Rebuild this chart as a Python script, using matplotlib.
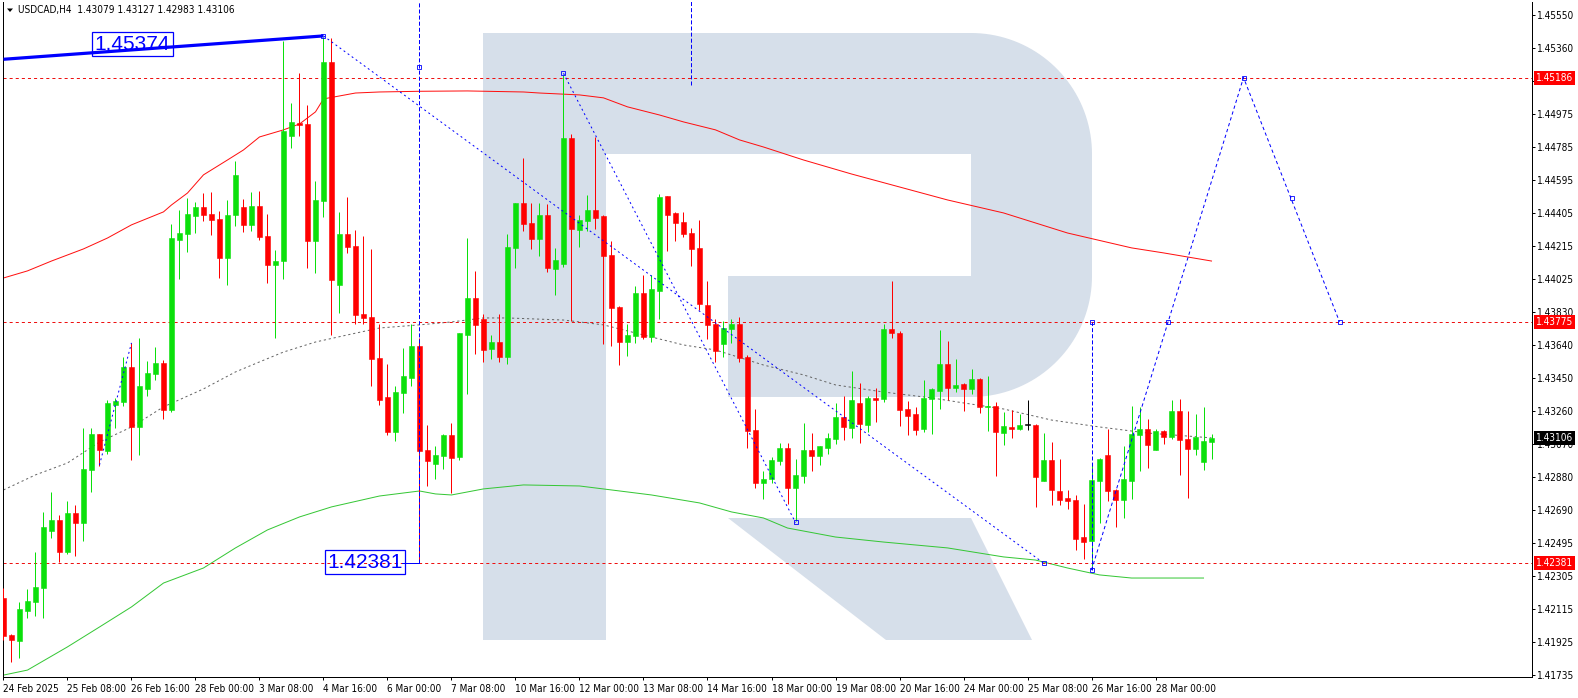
import matplotlib.pyplot as plt
import matplotlib.transforms as mtransforms
from matplotlib.patches import Polygon, Rectangle
import numpy as np

plt.rcParams['font.family'] = ['DejaVu Sans']
plt.rcParams['font.stretch'] = 'condensed'
plt.rcParams['lines.scale_dashes'] = False

# ---- data: USDCAD H4 candles ----
opens = [1.42179, 1.41965, 1.41930, 1.42103, 1.42155, 1.42237, 1.42566, 1.42629, 1.42444, 1.42670,
         1.42612, 1.42918, 1.43127, 1.43028, 1.43294, 1.43311, 1.43514, 1.43167, 1.43387, 1.43473,
         1.43537, 1.43265, 1.44248, 1.44283, 1.44387, 1.44439, 1.44398, 1.44369, 1.44144, 1.44392,
         1.44439, 1.44335, 1.44444, 1.44271, 1.44103, 1.44126, 1.44849, 1.44924, 1.44918, 1.44242,
         1.44473, 1.45277, 1.43988, 1.44283, 1.44213, 1.43820, 1.43803, 1.43566, 1.43340, 1.43138,
         1.43364, 1.43450, 1.43635, 1.43034, 1.42953, 1.42999, 1.43121, 1.42994, 1.43699, 1.43913,
         1.43791, 1.43618, 1.43658, 1.43571, 1.44202, 1.44462, 1.44346, 1.44254, 1.44392, 1.44080,
         1.44109, 1.44837, 1.44306, 1.44358, 1.44421, 1.44387, 1.44161, 1.43860, 1.43658, 1.43693,
         1.43942, 1.43687, 1.43953, 1.44502, 1.44404, 1.44352, 1.44288, 1.44202, 1.43872, 1.43762,
         1.43647, 1.43733, 1.43762, 1.43571, 1.43150, 1.42843, 1.42866, 1.42970, 1.43046, 1.42815,
         1.42884, 1.43034, 1.42999, 1.43046, 1.43098, 1.43225, 1.43161, 1.43306, 1.43179, 1.43335,
         1.43329, 1.43733, 1.43710, 1.43271, 1.43242, 1.43156, 1.43329, 1.43375, 1.43531, 1.43392,
         1.43415, 1.43387, 1.43444, 1.43283, 1.43288, 1.43132, 1.43167, 1.43156, 1.43179, 1.43179,
         1.42855, 1.42976, 1.42797, 1.42757, 1.42745, 1.42531, 1.42508, 1.42855, 1.43005, 1.42803,
         1.42745, 1.42855, 1.43121, 1.43156, 1.43034, 1.43144, 1.43109, 1.43259, 1.43098, 1.43040,
         1.42965, 1.43079]
highs = [1.42237, 1.41971, 1.42155, 1.42231, 1.42444, 1.42675, 1.42791, 1.42658, 1.42739, 1.42716,
         1.43161, 1.43161, 1.43127, 1.43323, 1.43335, 1.43571, 1.43653, 1.43681, 1.43548, 1.43629,
         1.43554, 1.44340, 1.44421, 1.44491, 1.44467, 1.44519, 1.44525, 1.44415, 1.44479, 1.44704,
         1.44485, 1.44525, 1.44531, 1.44398, 1.44190, 1.45398, 1.45040, 1.45213, 1.45028, 1.44589,
         1.45421, 1.45415, 1.44410, 1.44496, 1.44306, 1.44271, 1.44196, 1.43762, 1.43531, 1.43404,
         1.43624, 1.43762, 1.43681, 1.43179, 1.43057, 1.43127, 1.43190, 1.43710, 1.44259, 1.44069,
         1.43820, 1.43699, 1.43820, 1.44283, 1.44462, 1.44722, 1.44462, 1.44462, 1.44456, 1.44202,
         1.45202, 1.44860, 1.44392, 1.44508, 1.44843, 1.44392, 1.44242, 1.43866, 1.43762, 1.43982,
         1.44046, 1.44046, 1.44514, 1.44502, 1.44410, 1.44410, 1.44317, 1.44363, 1.44011, 1.43791,
         1.43780, 1.43791, 1.43803, 1.43583, 1.43271, 1.42913, 1.42994, 1.43075, 1.43075, 1.42982,
         1.43190, 1.43132, 1.43057, 1.43132, 1.43306, 1.43346, 1.43491, 1.43421, 1.43346, 1.43392,
         1.43762, 1.44011, 1.43722, 1.43317, 1.43283, 1.43439, 1.43392, 1.43728, 1.43664, 1.43560,
         1.43421, 1.43502, 1.43450, 1.43462, 1.43311, 1.43254, 1.43265, 1.43242, 1.43323, 1.43184,
         1.43132, 1.43080, 1.42982, 1.42803, 1.42774, 1.42722, 1.42947, 1.42988, 1.43156, 1.42809,
         1.43057, 1.43288, 1.43283, 1.43213, 1.43156, 1.43150, 1.43323, 1.43329, 1.43259, 1.43242,
         1.43283, 1.43127]
lows = [1.41936, 1.41808, 1.41832, 1.42063, 1.42074, 1.42063, 1.42525, 1.42386, 1.42433, 1.42421,
        1.42508, 1.42791, 1.42941, 1.43011, 1.43161, 1.43288, 1.42976, 1.43005, 1.43346, 1.43439,
        1.43213, 1.43254, 1.44022, 1.44178, 1.44288, 1.44358, 1.44277, 1.44028, 1.43988, 1.44329,
        1.44294, 1.44300, 1.44248, 1.43999, 1.43681, 1.44022, 1.44780, 1.44849, 1.44086, 1.44057,
        1.44381, 1.43699, 1.43826, 1.44173, 1.43762, 1.43762, 1.43404, 1.43294, 1.43121, 1.43086,
        1.43248, 1.43404, 1.42381, 1.42826, 1.42866, 1.42924, 1.42785, 1.42976, 1.43358, 1.43589,
        1.43543, 1.43560, 1.43543, 1.43531, 1.44086, 1.44300, 1.44196, 1.44155, 1.44063, 1.43930,
        1.44092, 1.43780, 1.44207, 1.44300, 1.44311, 1.43647, 1.43635, 1.43525, 1.43577, 1.43653,
        1.43676, 1.43658, 1.43791, 1.44184, 1.44242, 1.44265, 1.44097, 1.43843, 1.43676, 1.43543,
        1.43571, 1.43653, 1.43543, 1.43046, 1.42815, 1.42751, 1.42843, 1.42947, 1.42722, 1.42624,
        1.42843, 1.42913, 1.42947, 1.43011, 1.43069, 1.43092, 1.43104, 1.43075, 1.43138, 1.43196,
        1.43311, 1.43681, 1.43173, 1.43121, 1.43121, 1.43138, 1.43127, 1.43271, 1.43323, 1.43369,
        1.43259, 1.43358, 1.43248, 1.43144, 1.42884, 1.43063, 1.43104, 1.43150, 1.43150, 1.42705,
        1.42855, 1.42716, 1.42716, 1.42693, 1.42456, 1.42404, 1.42364, 1.42612, 1.42739, 1.42589,
        1.42641, 1.42751, 1.42913, 1.42930, 1.43034, 1.43069, 1.43098, 1.42890, 1.42757, 1.43005,
        1.42918, 1.42983]
closes = [1.41959, 1.41936, 1.42115, 1.42161, 1.42243, 1.42589, 1.42629, 1.42444, 1.42670, 1.42612,
          1.42924, 1.43127, 1.43034, 1.43306, 1.43317, 1.43514, 1.43167, 1.43404, 1.43479, 1.43537,
          1.43265, 1.44259, 1.44288, 1.44398, 1.44439, 1.44392, 1.44363, 1.44144, 1.44392, 1.44624,
          1.44335, 1.44444, 1.44265, 1.44103, 1.44126, 1.44878, 1.44930, 1.44913, 1.44242, 1.44479,
          1.45277, 1.44017, 1.44283, 1.44207, 1.43814, 1.43797, 1.43560, 1.43323, 1.43138, 1.43369,
          1.43462, 1.43635, 1.43028, 1.42970, 1.43005, 1.43121, 1.42988, 1.43710, 1.43913, 1.43757,
          1.43612, 1.43658, 1.43571, 1.44207, 1.44462, 1.44340, 1.44254, 1.44392, 1.44086, 1.44132,
          1.44837, 1.44311, 1.44363, 1.44421, 1.44375, 1.44155, 1.43855, 1.43658, 1.43699, 1.43942,
          1.43687, 1.43965, 1.44496, 1.44392, 1.44346, 1.44283, 1.44196, 1.43878, 1.43757, 1.43606,
          1.43739, 1.43762, 1.43566, 1.43144, 1.42843, 1.42866, 1.42976, 1.43046, 1.42815, 1.42890,
          1.43034, 1.42999, 1.43057, 1.43104, 1.43225, 1.43167, 1.43323, 1.43184, 1.43335, 1.43323,
          1.43733, 1.43710, 1.43265, 1.43231, 1.43150, 1.43335, 1.43387, 1.43531, 1.43392, 1.43410,
          1.43387, 1.43444, 1.43283, 1.43288, 1.43138, 1.43173, 1.43156, 1.43179, 1.43179, 1.42878,
          1.42976, 1.42803, 1.42745, 1.42739, 1.42520, 1.42502, 1.42861, 1.42982, 1.42797, 1.42745,
          1.42866, 1.43127, 1.43156, 1.43063, 1.43144, 1.43109, 1.43259, 1.43092, 1.43040, 1.43109,
          1.43086, 1.43106]

# moving averages (sampled along the drawn curves)
slow_ma_bars = [0, 3, 6, 10, 13, 16, 20, 21, 23, 25, 28, 30, 32, 35, 37, 39, 40, 42, 44, 47, 52, 58,
                65, 67, 72, 75, 78, 82, 85, 89, 92, 95, 100, 106, 112, 118, 125, 133, 141, 145, 151]
slow_ma_vals = [1.44028, 1.44069, 1.44126, 1.44196, 1.44259, 1.44335, 1.44410, 1.44450, 1.44519,
                1.44624, 1.44710, 1.44768, 1.44843, 1.44884, 1.44918, 1.44988, 1.45063, 1.45080,
                1.45097, 1.45103, 1.45107, 1.45109, 1.45103, 1.45097, 1.45086, 1.45069, 1.45017,
                1.44970, 1.44930, 1.44884, 1.44826, 1.44785, 1.44710, 1.44629, 1.44554, 1.44479,
                1.44404, 1.44288, 1.44202, 1.44173, 1.44126]
mid_ma_bars = [0, 4, 8, 12, 16, 20, 25, 29, 32, 35, 39, 43, 47, 52, 56, 60, 63, 70, 75, 81, 85, 89,
               95, 100, 104, 110, 116, 120, 125, 131, 137, 143, 151]
mid_ma_vals = [1.42803, 1.42890, 1.42959, 1.43080, 1.43167, 1.43283, 1.43387, 1.43485, 1.43543,
               1.43600, 1.43658, 1.43699, 1.43739, 1.43757, 1.43774, 1.43797, 1.43797, 1.43785,
               1.43757, 1.43687, 1.43641, 1.43612, 1.43525, 1.43468, 1.43410, 1.43369, 1.43335,
               1.43306, 1.43271, 1.43207, 1.43167, 1.43132, 1.43104]
low_ma_bars = [0, 3, 8, 12, 16, 20, 25, 29, 33, 37, 41, 47, 52, 54, 56, 60, 65, 72, 76, 81, 87, 91,
               95, 98, 104, 110, 118, 125, 129, 133, 137, 141, 150]
low_ma_vals = [1.41733, 1.41762, 1.41896, 1.42011, 1.42127, 1.42265, 1.42352, 1.42468, 1.42572,
               1.42647, 1.42705, 1.42768, 1.42797, 1.42780, 1.42774, 1.42809, 1.42832, 1.42826,
               1.42803, 1.42774, 1.42728, 1.42676, 1.42641, 1.42583, 1.42531, 1.42502, 1.42468,
               1.42416, 1.42398, 1.42352, 1.42312, 1.42294, 1.42294]

levels = [1.45186, 1.43775, 1.42381]
last_price = 1.43106

trend_bars = [0, 40]
trend_vals = [1.45292, 1.45427]
wave_small = ([12, 16], [1.42947, 1.43653])
wave_long = ([40, 130], [1.45427, 1.42381])
wave_mid = ([70, 99], [1.45211, 1.42615])
forecast_bars = [136, 155, 167]
forecast_vals = [1.42340, 1.45186, 1.43775]
marker_bars = [40, 70, 99, 130, 136, 136, 145.6, 155, 161, 167, 52]
marker_vals = [1.45427, 1.45211, 1.42615, 1.42381, 1.42340, 1.43775, 1.43775, 1.45186, 1.44491,
               1.43775, 1.45250]

ytick_vals = [1.45550, 1.45360, 1.45165, 1.44975, 1.44785, 1.44595, 1.44405, 1.44215, 1.44025,
              1.43830, 1.43640, 1.43450, 1.43260, 1.43070, 1.42880, 1.42690, 1.42495, 1.42305,
              1.42115, 1.41925, 1.41735]
date_labels = ['24 Feb 2025', '25 Feb 08:00', '26 Feb 16:00', '28 Feb 00:00', '3 Mar 08:00',
               '4 Mar 16:00', '6 Mar 00:00', '7 Mar 08:00', '10 Mar 16:00', '12 Mar 00:00',
               '13 Mar 08:00', '14 Mar 16:00', '18 Mar 00:00', '19 Mar 08:00', '20 Mar 16:00',
               '24 Mar 00:00', '25 Mar 08:00', '26 Mar 16:00', '28 Mar 00:00']

UP = '#0be00b'
DOWN = '#ff0000'
BLUE = '#0000ff'
WM = '#d6dfea'
PX = 0.72  # one pixel in points at dpi 100
FS = 7.2

fig = plt.figure(figsize=(15.78, 6.98), dpi=100)

# watermark layer (pixel coordinates)
wm = fig.add_axes([0, 0, 1, 1], zorder=0)
wm.set_xlim(0, 1578)
wm.set_ylim(698, 0)
wm.axis('off')
wm.add_patch(Rectangle((483, 33), 123, 607, color=WM, lw=0))
t1 = np.linspace(-90, 0, 40) * np.pi / 180
t2 = np.linspace(0, 90, 40) * np.pi / 180
bowl = [(606, 33)]
bowl += list(zip(971 + 121 * np.cos(t1), 154 + 121 * np.sin(t1)))
bowl += list(zip(971 + 121 * np.cos(t2), 276 + 121 * np.sin(t2)))
bowl += [(728, 397), (728, 276), (971, 276), (971, 154), (606, 154)]
wm.add_patch(Polygon(bowl, closed=True, color=WM, lw=0))
wm.add_patch(Polygon([(728, 518), (971, 518), (1032, 640), (886, 640)], closed=True, color=WM, lw=0))
wm.add_patch(Polygon([(7, 8.5), (13, 8.5), (10, 12)], closed=True, color='black', lw=0))

ax = fig.add_axes([3 / 1578, 21 / 698, 1529 / 1578, 675 / 698], zorder=1)
ax.patch.set_alpha(0)
ax.set_xlim(-0.06, 191.06)
ax.set_ylim(1.41722, 1.45623)

# moving averages
ax.plot(slow_ma_bars, slow_ma_vals, color='#ff1010', lw=PX, zorder=2)
ax.plot(mid_ma_bars, mid_ma_vals, color='#666666', lw=PX, dashes=(1.6, 2.0), zorder=2)
ax.plot(low_ma_bars, low_ma_vals, color='#36c736', lw=PX, zorder=2)

# levels
for lv in levels:
    ax.axhline(lv, color='#ee1111', lw=PX, dashes=(2.2, 2.2), zorder=2)

# candles
x = np.arange(len(opens))
o = np.array(opens)
c = np.array(closes)
cols = np.where(c > o, UP, np.where(c < o, DOWN, 'black'))
ax.vlines(x, lows, highs, colors=cols, lw=PX, zorder=3)
bottoms = np.minimum(o, c)
heights = np.maximum(np.abs(c - o), 0.00003)
ax.bar(x, heights, width=0.62, bottom=bottoms, color=cols, edgecolor=cols, lw=0.4, zorder=4)

# analysis drawings
ax.plot(trend_bars, trend_vals, color=BLUE, lw=2.3, solid_capstyle='butt', zorder=5)
for xs, ys in (wave_small, wave_long, wave_mid):
    ax.plot(xs, ys, color=BLUE, lw=PX, dashes=(1.4, 2.2), zorder=5)
ax.plot(forecast_bars, forecast_vals, color=BLUE, lw=PX, dashes=(2.4, 2.0), zorder=5)
ax.plot([136, 136], [forecast_vals[0], levels[1]], color=BLUE, lw=PX, dashes=(2.9, 1.5), zorder=5)
ax.plot([52, 52], [levels[2], 1.4570], color=BLUE, lw=PX, dashes=(2.9, 1.5), zorder=5)
ax.plot([86, 86], [1.45144, 1.4570], color=BLUE, lw=PX, dashes=(2.9, 1.5), zorder=5)
ax.plot(marker_bars, marker_vals, ls='none', marker='s', ms=3, mfc='none', mec=BLUE, mew=0.6, zorder=5)
ax.plot([49.8, 52], [levels[2], levels[2]], color=BLUE, lw=PX, zorder=5)

box = dict(boxstyle='square,pad=0.12', fc='none', ec=BLUE, lw=0.9)
ax.text(16.1, 1.45378, '1.45374', ha='center', va='center', fontsize=15, color=BLUE,
        family=['Liberation Sans', 'DejaVu Sans'], stretch='normal', bbox=box, zorder=6)
ax.text(45.15, 1.42385, '1.42381', ha='center', va='center', fontsize=15, color=BLUE,
        family=['Liberation Sans', 'DejaVu Sans'], stretch='normal', bbox=box, zorder=6)

# axes frame and ticks
for side in ('left', 'right', 'bottom'):
    ax.spines[side].set_linewidth(PX)
    ax.spines[side].set_color('black')
ax.spines['top'].set_visible(False)
ax.yaxis.tick_right()
ax.set_yticks(ytick_vals)
ax.set_yticklabels(['%.5f' % v for v in ytick_vals])
ax.tick_params(axis='y', length=2.2, width=PX, pad=1.5, labelsize=FS)
ax.set_xticks(range(0, 8 * len(date_labels), 8))
ax.set_xticklabels(date_labels)
for lab in ax.get_xticklabels():
    lab.set_ha('left')
ax.tick_params(axis='x', length=2.5, width=PX, pad=2.5, labelsize=FS)

# price tags on the right scale
tag_tf = mtransforms.blended_transform_factory(fig.transFigure, ax.transData)
for lv in levels:
    ax.text(1536 / 1578, lv, '%.5f' % lv, transform=tag_tf, ha='left', va='center', fontsize=FS,
            color='white', bbox=dict(boxstyle='square,pad=0.2', fc='#ff0000', ec='none'),
            clip_on=False, zorder=7)
ax.text(1536 / 1578, last_price, '%.5f' % last_price, transform=tag_tf, ha='left', va='center',
        fontsize=FS, color='white', bbox=dict(boxstyle='square,pad=0.2', fc='black', ec='none'),
        clip_on=False, zorder=7)

fig.text(18 / 1578, 1 - 10.5 / 698, 'USDCAD,H4  1.43079 1.43127 1.42983 1.43106', va='center',
         ha='left', fontsize=FS, color='black')

fig.savefig('out.png', dpi=100)
